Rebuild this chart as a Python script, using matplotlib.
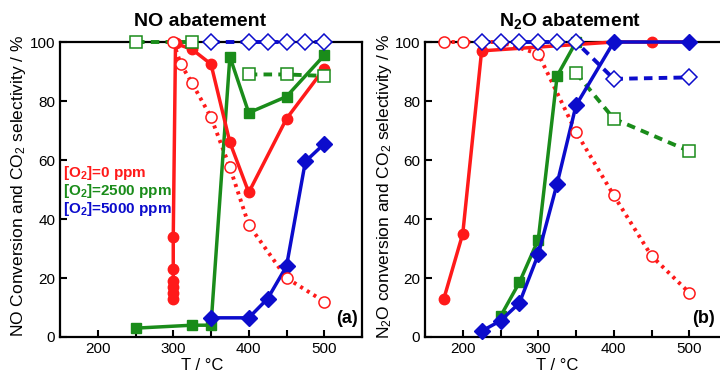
import numpy as np
import matplotlib
matplotlib.use("Agg")
import matplotlib.pyplot as plt
from matplotlib.ticker import MultipleLocator

plt.rcParams["font.family"] = ["Liberation Sans", "DejaVu Sans"]
plt.rcParams["mathtext.default"] = "regular"

RED, GREEN, BLUE = "#ff1a1a", "#1a8c1a", "#0c0ccc"

# ---- (a) NO abatement ----
# conversion (filled) and CO2 selectivity (open) for each O2 level
a_red_conv_x = [300, 300, 300, 300, 300, 300, 303, 325, 350, 375, 400, 450, 500]
a_red_conv_y = [13, 15, 17, 19, 23, 34, 99.5, 97.5, 92.5, 66, 49, 74, 91]
a_red_sel_x = [300, 310, 325, 350, 375, 400, 450, 500]
a_red_sel_y = [100, 92.5, 86, 74.5, 57.5, 38, 20, 12]
a_green_conv_x = [250, 325, 350, 375, 400, 450, 500]
a_green_conv_y = [3, 4, 4, 95, 76, 81.5, 95.5]
a_green_sel_x = [250, 325, 400, 450, 500]
a_green_sel_y = [100, 100, 89, 89, 88.5]
a_blue_conv_x = [350, 400, 425, 450, 475, 500]
a_blue_conv_y = [6.5, 6.5, 13, 24, 59.5, 65.5]
a_blue_sel_x = [350, 400, 425, 450, 475, 500]
a_blue_sel_y = [100, 100, 100, 100, 100, 100]

# ---- (b) N2O abatement ----
b_red_conv_x = [175, 200, 225, 400, 450, 500]
b_red_conv_y = [13, 35, 97, 100, 100, 100]
b_red_sel_x = [175, 200, 250, 300, 350, 400, 450, 500]
b_red_sel_y = [100, 100, 100, 96, 69.5, 48, 27.5, 15]
b_green_conv_x = [250, 275, 300, 325, 350]
b_green_conv_y = [7, 18.5, 33, 88.5, 100]
b_green_sel_x = [350, 400, 500]
b_green_sel_y = [89.5, 74, 63]
b_blue_conv_x = [225, 250, 275, 300, 325, 350, 400, 500]
b_blue_conv_y = [2, 5.5, 11.5, 28, 52, 78.5, 100, 100]
b_blue_sel_x = [225, 250, 275, 300, 325, 350, 400, 500]
b_blue_sel_y = [100, 100, 100, 100, 100, 100, 87.5, 88]

legend_labels = ["[O$_2$]=0 ppm", "[O$_2$]=2500 ppm", "[O$_2$]=5000 ppm"]

DOT = (0, (0.8, 1.2))
DASH = (0, (2.2, 1.6))


def conv(ax, x, y, color, marker, ms=8, lw=2.5):
    ax.plot(x, y, color=color, lw=lw, marker=marker, ms=ms, mec=color,
            mfc=color, clip_on=False, zorder=4)


def sel(ax, x, y, color, marker, ls, ms=8, lw=2.8, seg=None, z=5):
    if seg is None:
        ax.plot(x, y, color=color, lw=lw, ls=ls, zorder=3, clip_on=False)
    else:
        for i0, i1 in seg:
            ax.plot(x[i0:i1], y[i0:i1], color=color, lw=lw, ls=ls,
                    zorder=3, clip_on=False)
    ax.plot(x, y, ls="none", marker=marker, ms=ms, mec=color, mfc="white",
            mew=1.1, clip_on=False, zorder=z)


def style(ax):
    ax.set_xlim(150, 550)
    ax.set_ylim(0, 100)
    ax.xaxis.set_major_locator(MultipleLocator(100))
    ax.xaxis.set_minor_locator(MultipleLocator(50))
    ax.yaxis.set_major_locator(MultipleLocator(20))
    ax.tick_params(which="both", direction="in", width=1.5, labelsize=11,
                   top=False, right=False)
    ax.tick_params(which="major", length=5)
    ax.tick_params(which="minor", length=5)
    for s in ax.spines.values():
        s.set_linewidth(1.6)


fig = plt.figure(figsize=(7.2, 3.76), dpi=100)
ax1 = fig.add_axes([60 / 720, 39 / 376, 302 / 720, 295 / 376])
ax2 = fig.add_axes([425 / 720, 39 / 376, 302 / 720, 295 / 376])

# panel a
sel(ax1, a_blue_sel_x, a_blue_sel_y, BLUE, "D", DASH, ms=8.5)
sel(ax1, a_green_sel_x, a_green_sel_y, GREEN, "s", DASH, seg=[(0, 2), (2, 5)])
sel(ax1, a_red_sel_x, a_red_sel_y, RED, "o", DOT)
conv(ax1, a_green_conv_x, a_green_conv_y, GREEN, "s", ms=7.5)
conv(ax1, a_red_conv_x, a_red_conv_y, RED, "o", ms=7.5)
conv(ax1, a_blue_conv_x, a_blue_conv_y, BLUE, "D", ms=8)
style(ax1)

# panel b
sel(ax2, b_red_sel_x, b_red_sel_y, RED, "o", DOT)
sel(ax2, b_green_sel_x, b_green_sel_y, GREEN, "s", DASH)
sel(ax2, b_blue_sel_x, b_blue_sel_y, BLUE, "D", DASH, ms=8.5, z=6)
conv(ax2, b_red_conv_x, b_red_conv_y, RED, "o", ms=7.5)
conv(ax2, b_green_conv_x, b_green_conv_y, GREEN, "s", ms=7.5)
conv(ax2, b_blue_conv_x, b_blue_conv_y, BLUE, "D", ms=8)
style(ax2)

for lab, col, yy in zip(legend_labels, [RED, GREEN, BLUE], [0.556, 0.496, 0.434]):
    ax1.text(0.01, yy, lab, color=col, fontsize=11, fontweight="bold",
             transform=ax1.transAxes, va="center", ha="left", zorder=6)

ax1.text(0.985, 0.064, "(a)", fontsize=13, fontweight="bold",
         transform=ax1.transAxes, ha="right", va="center")
ax2.text(0.885, 0.064, "(b)", fontsize=13, fontweight="bold",
         transform=ax2.transAxes, ha="left", va="center")

fig.text(200 / 720, 1 - 21 / 376, "NO abatement", fontsize=14,
         fontweight="bold", ha="center", va="center")
fig.text(570 / 720, 1 - 21 / 376, "N$_2$O abatement", fontsize=14,
         fontweight="bold", ha="center", va="center")
fig.text(202 / 720, 1 - 366 / 376, "T / \u00b0C", fontsize=12,
         ha="center", va="center")
fig.text(557 / 720, 1 - 366 / 376, "T / \u00b0C", fontsize=12,
         ha="center", va="center")
fig.text(19 / 720, 1 - 186 / 376, "NO Conversion and CO$_2$ selectivity / %",
         fontsize=12.5, rotation=90, ha="center", va="center")
fig.text(385 / 720, 1 - 186 / 376, "N$_2$O conversion and CO$_2$ selectivity / %",
         fontsize=12.5, rotation=90, ha="center", va="center")

fig.savefig("out.png", dpi=100)
